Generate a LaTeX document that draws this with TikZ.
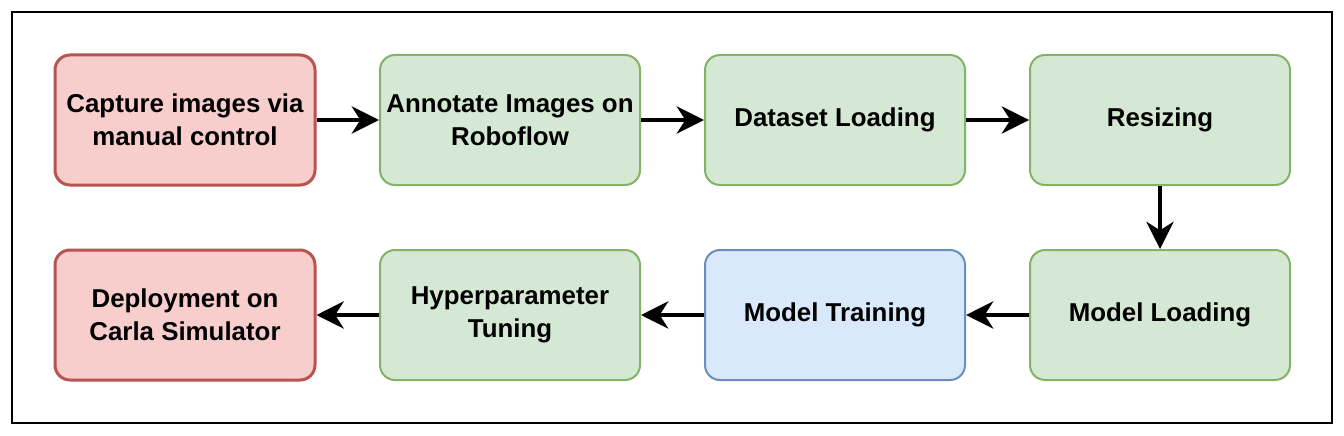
\documentclass[tikz,border=0pt]{standalone}
\usepackage{fontspec}
\setmainfont{Liberation Sans}
\usetikzlibrary{arrows.meta}

\definecolor{redfill}{RGB}{248,206,204}
\definecolor{redline}{RGB}{184,84,80}
\definecolor{greenfill}{RGB}{213,232,212}
\definecolor{greenline}{RGB}{130,179,102}
\definecolor{bluefill}{RGB}{218,232,252}
\definecolor{blueline}{RGB}{108,142,191}

\tikzset{
  stepbox/.style={rectangle, rounded corners=11.25pt, minimum width=195pt, minimum height=97.5pt,
    align=center, inner sep=0pt, font=\bfseries\fontsize{19.4}{24.5}\selectfont},
  redbox/.style={stepbox, fill=redfill, draw=redline, line width=2.25pt},
  greenbox/.style={stepbox, fill=greenfill, draw=greenline, line width=1.5pt},
  bluebox/.style={stepbox, fill=bluefill, draw=blueline, line width=1.5pt},
  flow/.style={line width=2.4pt, -{Stealth[length=20.5pt,width=20.5pt,inset=6.5pt]}}
}

\begin{document}
\begin{tikzpicture}[x=0.75pt,y=0.75pt,yscale=-1]
\useasboundingbox (0,0) rectangle (1344,435);

%Shape: Rectangle (frame)
\draw [line width=1.5pt] (12,12) rectangle (1332,423);

% Top row
\node [redbox] (capture) at (185,120) {Capture images via\\manual control};
\node [greenbox] (annotate) at (510,120) {Annotate Images on\\Roboflow};
\node [greenbox] (dataset) at (835,120) {Dataset Loading};
\node [greenbox] (resize) at (1160,120) {Resizing};

% Bottom row
\node [greenbox] (loadmodel) at (1160,315) {Model Loading};
\node [bluebox] (training) at (835,315) {Model Training};
\node [greenbox] (tuning) at (510,315) {Hyperparameter\\Tuning};
\node [redbox] (deploy) at (185,315) {Deployment on\\Carla Simulator};

% Arrows
\draw [flow] (capture) -- (annotate);
\draw [flow] (annotate) -- (dataset);
\draw [flow] (dataset) -- (resize);
\draw [flow] (resize) -- (loadmodel);
\draw [flow] (loadmodel) -- (training);
\draw [flow] (training) -- (tuning);
\draw [flow] (tuning) -- (deploy);

\end{tikzpicture}
\end{document}
